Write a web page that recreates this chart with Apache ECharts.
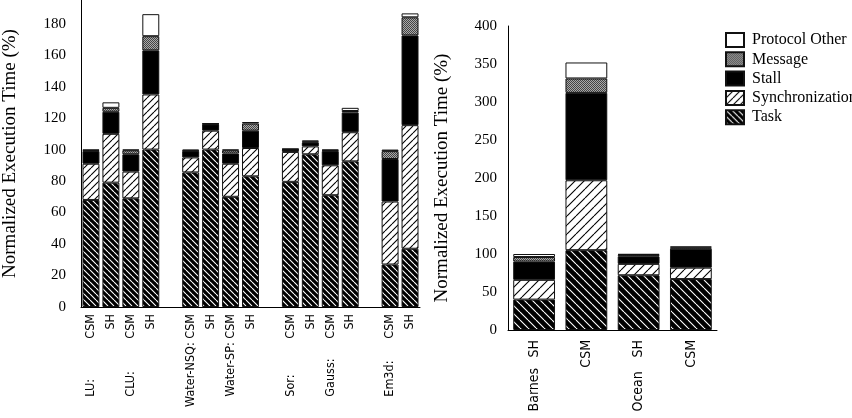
<!DOCTYPE html>
<html>
<head>
<meta charset="utf-8">
<script src="https://cdn.jsdelivr.net/npm/echarts@6/dist/echarts.min.js"></script>
<style>
  html, body { margin: 0; padding: 0; background: #fff; }
  #chart { width: 852px; height: 418px; }
</style>
</head>
<body>
<div id="chart"></div>
<script>
// left panel: 17 slots, gaps between benchmark groups
const leftCats = ['LU CSM', 'LU SH', 'CLU CSM', 'CLU SH', 'gap1',
  'Water-NSQ CSM', 'Water-NSQ SH', 'Water-SP CSM', 'Water-SP SH', 'gap2',
  'Sor CSM', 'Sor SH', 'Gauss CSM', 'Gauss SH', 'gap3', 'Em3d CSM', 'Em3d SH']
const leftNames = ['LU:', '', 'CLU:', '', '', 'Water-NSQ:', '', 'Water-SP:', '', '',
  'Sor:', '', 'Gauss:', '', '', 'Em3d:', '']
const leftProto = ['CSM', 'SH', 'CSM', 'SH', '', 'CSM', 'SH', 'CSM', 'SH', '',
  'CSM', 'SH', 'CSM', 'SH', '', 'CSM', 'SH']

const leftTask = [68, 79, 69, 100, '-', 85.5, 100, 70, 83, '-', 79.5, 97, 71, 92.5, '-', 27, 37]
const leftSync = [23, 31, 17, 35, '-', 9.5, 12, 21, 18, '-', 19, 5, 19, 18.5, '-', 40, 78.5]
const leftStall = [8, 14, 11, 28, '-', 4, 4, 6.5, 11, '-', 1.5, 2.5, 9, 12.5, '-', 27, 57]
const leftMsg = [0.5, 2.5, 2.5, 9, '-', 0.3, 0.3, 2, 4.5, '-', 0.2, 0.5, 0.5, 1, '-', 5, 11.5]
const leftOther = [0.5, 3.5, 0.5, 14, '-', 0.7, 0.3, 0.5, 1, '-', 0.3, 0.8, 0.5, 2, '-', 1, 2.5]

// right panel
const rightCats = ['Barnes SH', 'Barnes CSM', 'Ocean SH', 'Ocean CSM']
const rightNames = ['Barnes', '', 'Ocean', '']
const rightProto = ['SH', 'CSM', 'SH', 'CSM']

const rightTask = [40, 105, 72, 67]
const rightSync = [26, 92, 15, 15]
const rightStall = [24, 115, 10, 25]
const rightMsg = [6, 19, 2, 1.5]
const rightOther = [4, 21, 1, 1.5]

const legendNames = ['Protocol Other', 'Message', 'Stall', 'Synchronization', 'Task']

const SERIF = '"Liberation Serif", "Times New Roman", serif'
const NARROW = '"Liberation Sans Narrow", "DejaVu Sans Condensed", "Liberation Sans", sans-serif'

// hatch tiles
function hatch (bg, fg, size, dir) {
  const c = document.createElement('canvas')
  c.width = c.height = size
  const g = c.getContext('2d')
  g.fillStyle = bg
  g.fillRect(0, 0, size, size)
  g.strokeStyle = fg
  g.lineWidth = 1.1
  g.beginPath()
  for (const o of [-size, 0, size]) {
    if (dir === 'down') { g.moveTo(o, 0); g.lineTo(o + size, size) } else { g.moveTo(o, size); g.lineTo(o + size, 0) }
  }
  g.stroke()
  return c
}
function stipple () {
  const c = document.createElement('canvas')
  c.width = c.height = 2
  const g = c.getContext('2d')
  g.fillStyle = '#aaa'
  g.fillRect(0, 0, 2, 2)
  g.fillStyle = '#444'
  g.fillRect(0, 0, 1, 1)
  g.fillRect(1, 1, 1, 1)
  return c
}

function makeSeries (idx, data, tileSize, width) {
  const fills = {
    'Task': { image: hatch('#000', '#fff', tileSize, 'down'), repeat: 'repeat' },
    'Synchronization': { image: hatch('#fff', '#000', tileSize + 1, 'up'), repeat: 'repeat' },
    'Stall': '#000',
    'Message': { image: stipple(), repeat: 'repeat' },
    'Protocol Other': '#fff'
  }
  const order = ['Task', 'Synchronization', 'Stall', 'Message', 'Protocol Other']
  return order.map((name, k) => ({
    name: name,
    type: 'bar',
    stack: 'total' + idx,
    xAxisIndex: idx,
    yAxisIndex: idx,
    barWidth: width,
    data: data[k],
    itemStyle: { color: fills[name], borderColor: '#111', borderWidth: 1 },
    emphasis: { disabled: true }
  }))
}

const chart = echarts.init(document.getElementById('chart'))

const option = {
  animation: false,
  backgroundColor: '#fff',
  legend: {
    data: legendNames,
    orient: 'vertical',
    left: 725,
    top: 32,
    padding: 0,
    itemWidth: 18,
    itemHeight: 14,
    itemGap: 3.3,
    icon: 'rect',
    selectedMode: false,
    textStyle: { fontFamily: SERIF, fontSize: 16, color: '#000', lineHeight: 14, padding: [0, 0, 0, 3] }
  },
  grid: [
    { left: 80, top: 0, width: 340, height: 307 },
    { left: 508, top: 26, width: 209, height: 304 }
  ],
  xAxis: [
    {
      type: 'category',
      gridIndex: 0,
      data: leftCats,
      axisTick: { show: false },
      axisLine: { lineStyle: { color: '#000', width: 1 } },
      axisLabel: {
        interval: 0,
        rotate: 90,
        margin: 7,
        color: '#000',
        fontFamily: NARROW,
        fontSize: 12.5,
        formatter: function (v, i) {
          const n = leftNames[i]
          const p = leftProto[i]
          if (!n) return p ? '{v|' + p + '}' : ''
          if (n.length > 6) return '{v|' + n + ' ' + p + '}'
          return '{n|' + n + '}{v|' + p + '}'
        },
        rich: {
          n: { width: 58, align: 'left', fontFamily: NARROW, fontSize: 12.5, color: '#000' },
          v: { fontFamily: NARROW, fontSize: 12.5, color: '#000' }
        }
      }
    },
    {
      type: 'category',
      gridIndex: 1,
      data: rightCats,
      axisTick: { show: false },
      axisLine: { lineStyle: { color: '#000', width: 1 } },
      axisLabel: {
        interval: 0,
        rotate: 90,
        margin: 10,
        color: '#000',
        fontFamily: NARROW,
        fontSize: 14,
        formatter: function (v, i) {
          const n = rightNames[i]
          const p = rightProto[i]
          if (!n) return '{v|' + p + '}'
          return '{n|' + n + '}{v|' + p + '}'
        },
        rich: {
          n: { width: 54, align: 'left', fontFamily: NARROW, fontSize: 14, color: '#000' },
          v: { fontFamily: NARROW, fontSize: 14, color: '#000' }
        }
      }
    }
  ],
  yAxis: [
    {
      type: 'value',
      gridIndex: 0,
      min: 0,
      max: 195,
      interval: 20,
      name: 'Normalized Execution Time (%)',
      nameLocation: 'middle',
      nameGap: 61,
      nameTextStyle: { fontFamily: SERIF, fontSize: 19, color: '#000' },
      axisLine: { show: true, lineStyle: { color: '#000', width: 1 } },
      axisTick: { show: false },
      splitLine: { show: false },
      axisLabel: {
        margin: 15,
        color: '#000',
        fontFamily: SERIF,
        fontSize: 15,
        formatter: function (v) { return v % 20 === 0 ? String(v) : '' }
      }
    },
    {
      type: 'value',
      gridIndex: 1,
      min: 0,
      max: 400,
      interval: 50,
      name: 'Normalized Execution Time (%)',
      nameLocation: 'middle',
      nameGap: 56,
      nameTextStyle: { fontFamily: SERIF, fontSize: 19, color: '#000' },
      axisLine: { show: true, lineStyle: { color: '#000', width: 1 } },
      axisTick: { show: false },
      splitLine: { show: false },
      axisLabel: { margin: 11, color: '#000', fontFamily: SERIF, fontSize: 15 }
    }
  ],
  series: [].concat(
    makeSeries(0, [leftTask, leftSync, leftStall, leftMsg, leftOther], 6, '85%'),
    makeSeries(1, [rightTask, rightSync, rightStall, rightMsg, rightOther], 8, '80%')
  )
}

chart.setOption(option)
</script>
</body>
</html>
